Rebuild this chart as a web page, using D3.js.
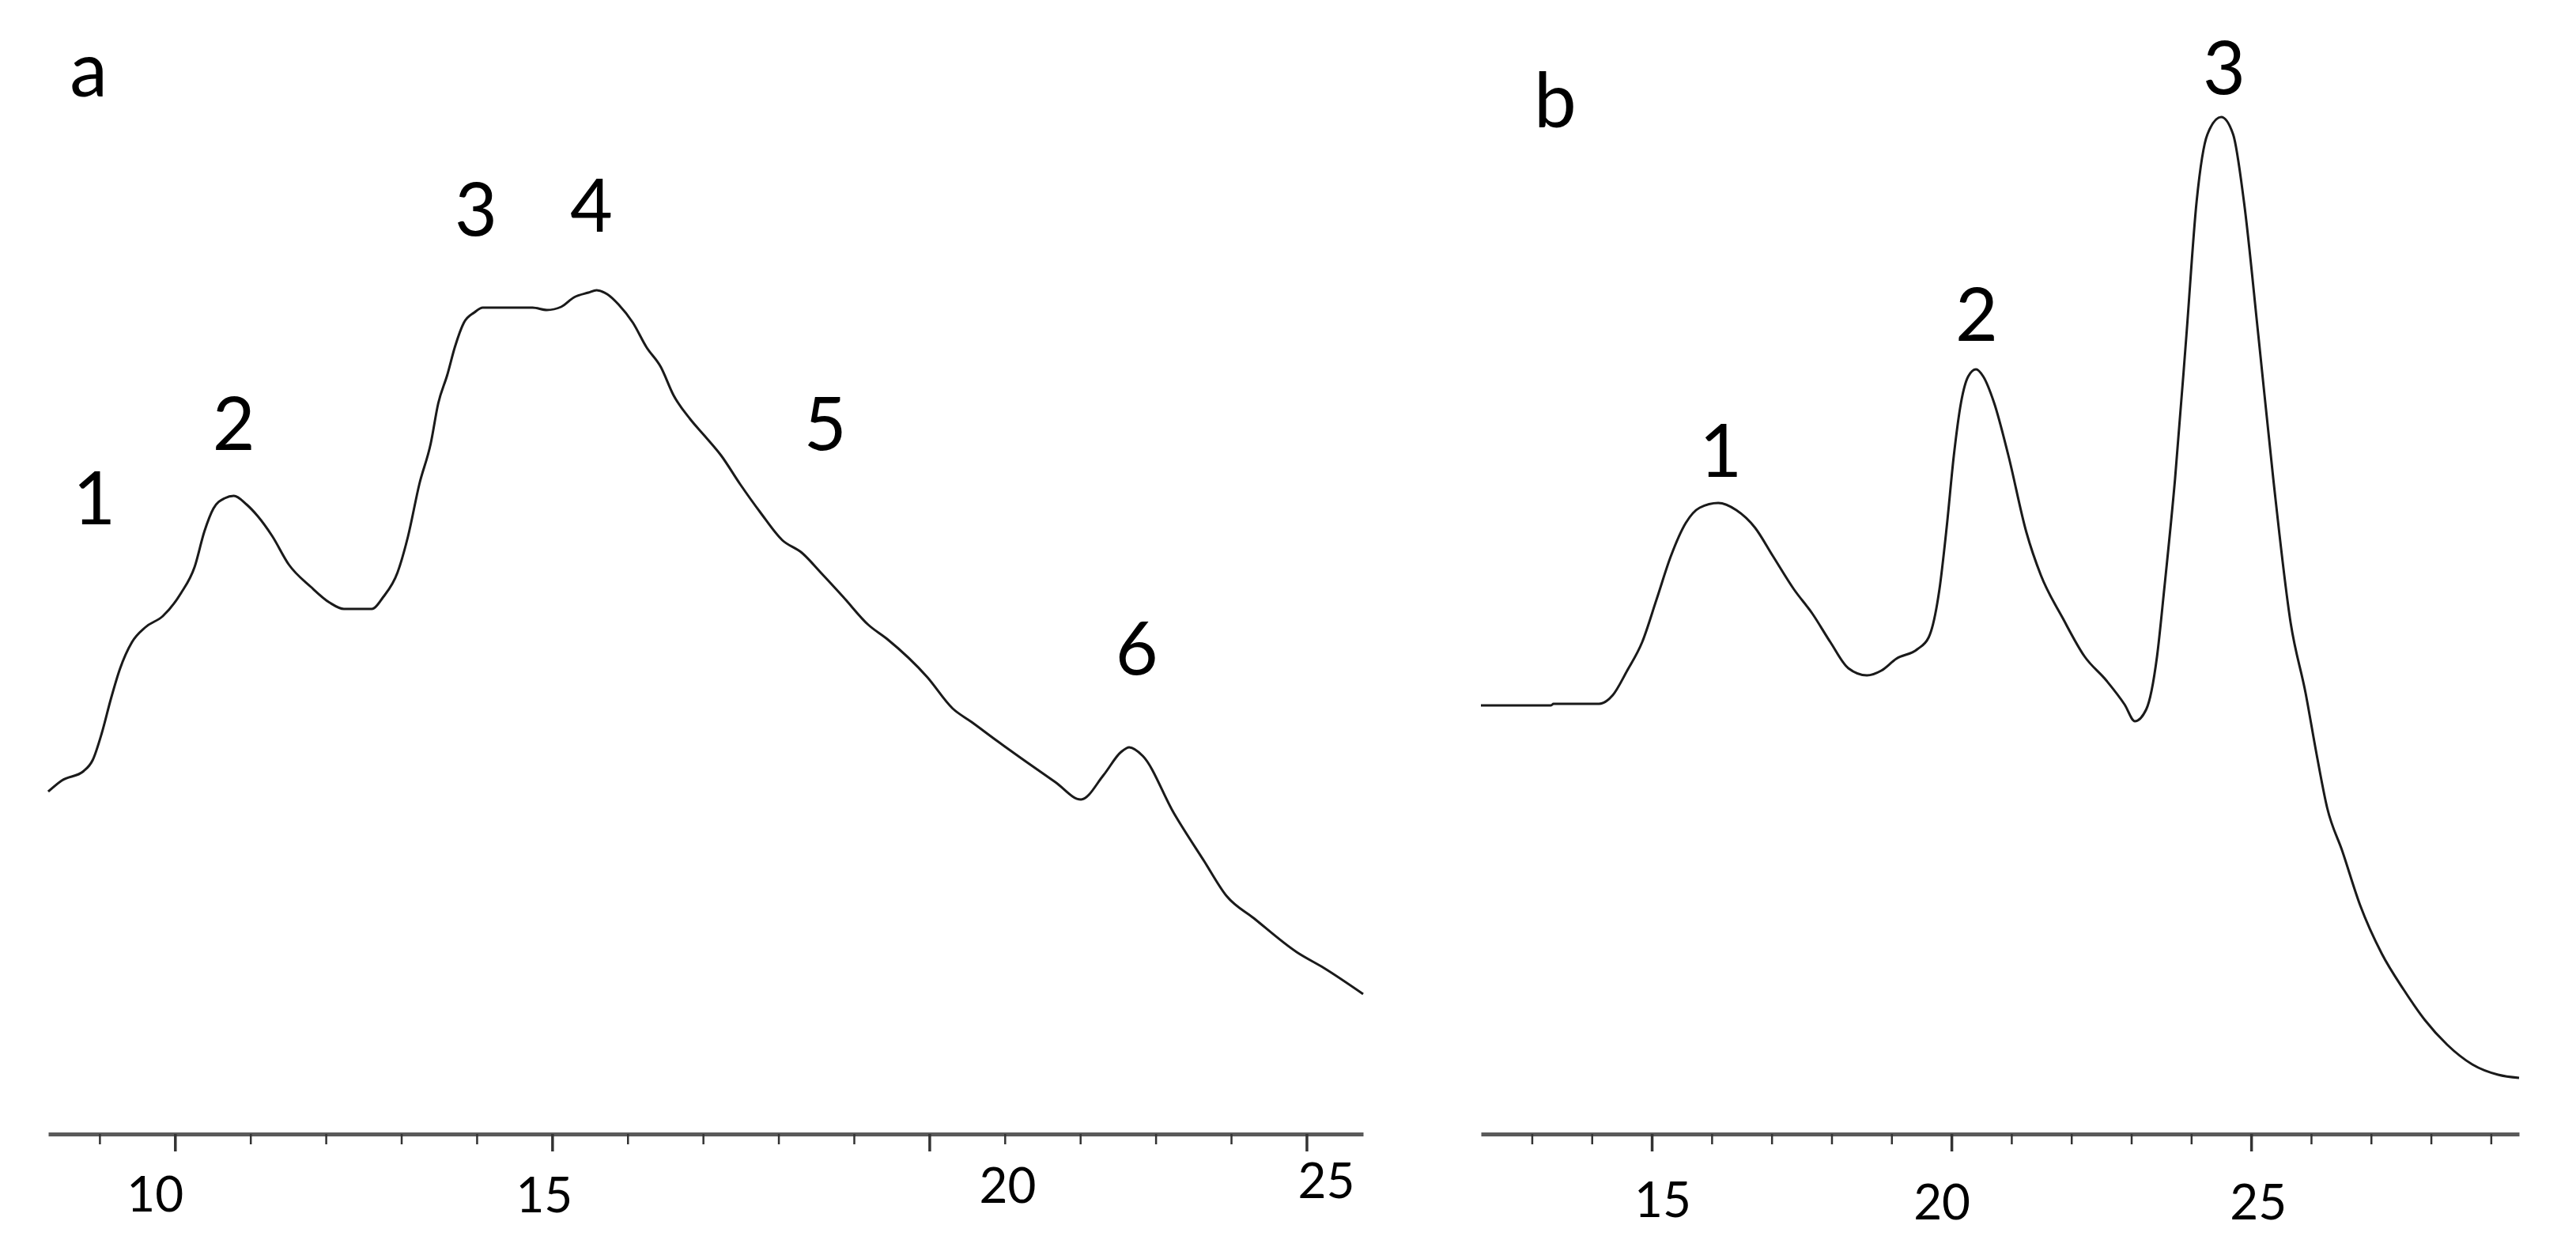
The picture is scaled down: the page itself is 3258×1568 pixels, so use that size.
<!DOCTYPE html>
<html>
<head>
<meta charset="utf-8">
<script src="https://cdn.jsdelivr.net/npm/d3@7"></script>
<style>
  html, body { margin: 0; padding: 0; background: #fff; }
</style>
</head>
<body>
<div id="chart"></div>
<script>
// Panel a: retention time and detector signal (arbitrary units)
const aTime = [8.32, 8.50, 8.79, 8.91, 9.03, 9.15, 9.27, 9.43, 9.61, 9.84, 10.08, 10.26, 10.39, 10.51, 10.66, 10.78,
  10.95, 11.10, 11.29, 11.51, 11.80, 12.05, 12.24, 12.61, 12.76, 12.95, 13.09, 13.24, 13.39, 13.49, 13.61, 13.71,
  13.83, 13.97, 14.08, 14.74, 14.93, 15.12, 15.29, 15.48, 15.59, 15.73, 15.88, 16.07, 16.25, 16.44, 16.61, 16.83,
  17.02, 17.24, 17.49, 17.76, 18.05, 18.31, 18.56, 18.86, 19.19, 19.44, 19.97, 20.31, 20.56, 20.90, 21.31, 21.67,
  22.01, 22.31, 22.54, 22.65, 22.83, 23.24, 23.65, 23.94, 24.30, 24.87, 25.23, 25.75];
const aSignal = [43.1, 44.5, 45.7, 47.1, 50.5, 54.8, 58.6, 62.0, 63.9, 65.3, 68.2, 71.5, 76.0, 78.9, 80.2, 80.5,
  79.4, 77.9, 75.4, 71.8, 69.0, 67.0, 66.2, 66.2, 67.7, 70.8, 75.4, 82.0, 87.1, 92.2, 95.8, 99.3,
  102.4, 103.7, 104.3, 104.3, 104.0, 104.4, 105.6, 106.2, 106.5, 106.0, 104.7, 102.4, 99.3, 96.8, 93.2, 90.2,
  88.1, 85.6, 82.0, 78.4, 74.9, 73.3, 70.8, 67.7, 64.2, 62.4, 57.6, 53.6, 51.9, 49.5, 46.7, 44.3,
  42.1, 45.2, 48.1, 48.7, 47.6, 40.4, 34.2, 29.9, 27.1, 22.8, 20.8, 17.5];

// Panel b
const bTime = [12.15, 13.32, 13.36, 14.12, 14.35, 14.59, 14.84, 15.08, 15.32, 15.57, 15.80, 16.11, 16.41, 16.72,
  17.02, 17.37, 17.68, 17.98, 18.28, 18.59, 18.83, 19.08, 19.43, 19.62, 19.80, 19.92, 20.04, 20.16, 20.28, 20.41,
  20.53, 20.71, 20.95, 21.25, 21.49, 21.86, 22.22, 22.59, 22.89, 23.06, 23.25, 23.43, 23.55, 23.73, 23.92, 24.09,
  24.27, 24.50, 24.70, 24.88, 25.12, 25.37, 25.66, 25.91, 26.09, 26.27, 26.52, 26.82, 27.18, 27.55, 27.90, 28.27,
  28.69, 29.12, 29.47];
const bSignal = [54.0, 54.0, 54.2, 54.2, 55.3, 58.4, 62.0, 67.4, 72.9, 77.1, 79.0, 79.6, 78.7, 76.5,
  72.9, 68.7, 65.6, 62.0, 58.7, 57.8, 58.4, 59.9, 61.1, 62.6, 68.7, 76.5, 85.6, 92.3, 95.6, 96.5,
  95.6, 92.3, 85.6, 75.9, 70.5, 65.0, 60.2, 57.1, 54.1, 52.0, 53.5, 60.2, 68.7, 82.6, 100.8, 117.7,
  126.2, 128.4, 126.2, 117.7, 100.8, 82.6, 64.4, 55.5, 47.9, 41.0, 35.6, 28.7, 22.6, 18.0, 14.2, 11.1,
  8.6, 7.3, 6.9];

// Peak numbers (text, time, signal)
const aPeakNames = ["1", "2", "3", "4", "5", "6"];
const aPeakTime = [8.93, 10.78, 13.99, 15.52, 18.62, 22.75];
const aPeakSignal = [76.9, 86.3, 113.4, 113.9, 86.3, 57.9];
const bPeakNames = ["1", "2", "3"];
const bPeakTime = [16.15, 20.42, 24.55];
const bPeakSignal = [82.9, 100.1, 131.3];

// Axis ticks
const aDomain = [8.32, 25.75];
const aMajor = [10, 15, 20, 25];
const aMinor = d3.range(9, 26);
const bDomain = [12.15, 29.47];
const bMajor = [15, 20, 25];
const bMinor = d3.range(13, 30);

// Label nudges (the printed tick labels are not centred on their ticks)
const aLabelShift = [-25, -10, 99, 25];
const aLabelDrop = [98, 99, 87, 81];
const bLabelShift = [14, -12, 9];
const bLabelDrop = [105, 108, 108];

const width = 3258;
const height = 1568;
const axisY = 1434;

const svg = d3.select("#chart")
  .append("svg")
  .attr("width", width)
  .attr("height", height)
  .style("display", "block");

svg.append("rect")
  .attr("width", width)
  .attr("height", height)
  .attr("fill", "#fff");

// shared signal scale, same height in both panels
const y = d3.scaleLinear()
  .domain([0, 143.2])
  .range([1432, 0]);

function drawPanel(opt) {
  const x = d3.scaleLinear().domain(opt.domain).range(opt.range);
  const g = svg.append("g");

  // minor ticks + axis line
  const minorAxis = g.append("g")
    .attr("transform", `translate(0,${axisY})`)
    .call(d3.axisBottom(x).tickValues(opt.minor.filter(v => !opt.major.includes(v)))
      .tickSize(13).tickSizeOuter(0).tickFormat(""));
  minorAxis.select(".domain")
    .attr("stroke", "#5a5a5a")
    .attr("stroke-width", 5);
  minorAxis.selectAll(".tick line")
    .attr("stroke", "#333")
    .attr("stroke-width", 2.5);

  // major ticks
  const majorAxis = g.append("g")
    .attr("transform", `translate(0,${axisY})`)
    .call(d3.axisBottom(x).tickValues(opt.major).tickSize(22).tickSizeOuter(0).tickFormat(""));
  majorAxis.select(".domain").remove();
  majorAxis.selectAll(".tick line")
    .attr("stroke", "#333")
    .attr("stroke-width", 3.5);

  // tick labels
  g.selectAll(".tick-label")
    .data(opt.major)
    .enter().append("text")
    .attr("class", "tick-label")
    .attr("x", (d, i) => x(d) + opt.shift[i])
    .attr("y", (d, i) => axisY + opt.drop[i])
    .attr("text-anchor", "middle")
    .attr("font-family", "Lato, 'Open Sans', sans-serif")
    .attr("font-size", 62)
    .attr("fill", "#000")
    .text(d => d);

  // chromatogram trace
  const pts = opt.time.map((t, i) => [t, opt.signal[i]]);
  g.append("path")
    .datum(pts)
    .attr("fill", "none")
    .attr("stroke", "#1a1a1a")
    .attr("stroke-width", 3)
    .attr("stroke-linejoin", "round")
    .attr("d", d3.line()
      .x(d => x(d[0]))
      .y(d => y(d[1]))
      .curve(d3.curveMonotoneX));

  // peak numbers
  g.selectAll(".peak-label")
    .data(opt.names)
    .enter().append("text")
    .attr("class", "peak-label")
    .attr("x", (d, i) => x(opt.peakTime[i]))
    .attr("y", (d, i) => y(opt.peakSignal[i]))
    .attr("text-anchor", "middle")
    .attr("font-family", "Lato, 'Open Sans', sans-serif")
    .attr("font-size", 93)
    .attr("fill", "#000")
    .text(d => d);

  // panel letter
  g.append("text")
    .attr("x", opt.letterX)
    .attr("y", opt.letterY)
    .attr("text-anchor", "middle")
    .attr("font-family", "Lato, 'Open Sans', sans-serif")
    .attr("font-size", 96)
    .attr("fill", "#000")
    .text(opt.letter);
}

drawPanel({
  domain: aDomain, range: [61, 1724],
  major: aMajor, minor: aMinor, shift: aLabelShift, drop: aLabelDrop,
  time: aTime, signal: aSignal,
  names: aPeakNames, peakTime: aPeakTime, peakSignal: aPeakSignal,
  letter: "a", letterX: 112, letterY: 122
});

drawPanel({
  domain: bDomain, range: [1873, 3186],
  major: bMajor, minor: bMinor, shift: bLabelShift, drop: bLabelDrop,
  time: bTime, signal: bSignal,
  names: bPeakNames, peakTime: bPeakTime, peakSignal: bPeakSignal,
  letter: "b", letterX: 1967, letterY: 161
});
</script>
</body>
</html>
